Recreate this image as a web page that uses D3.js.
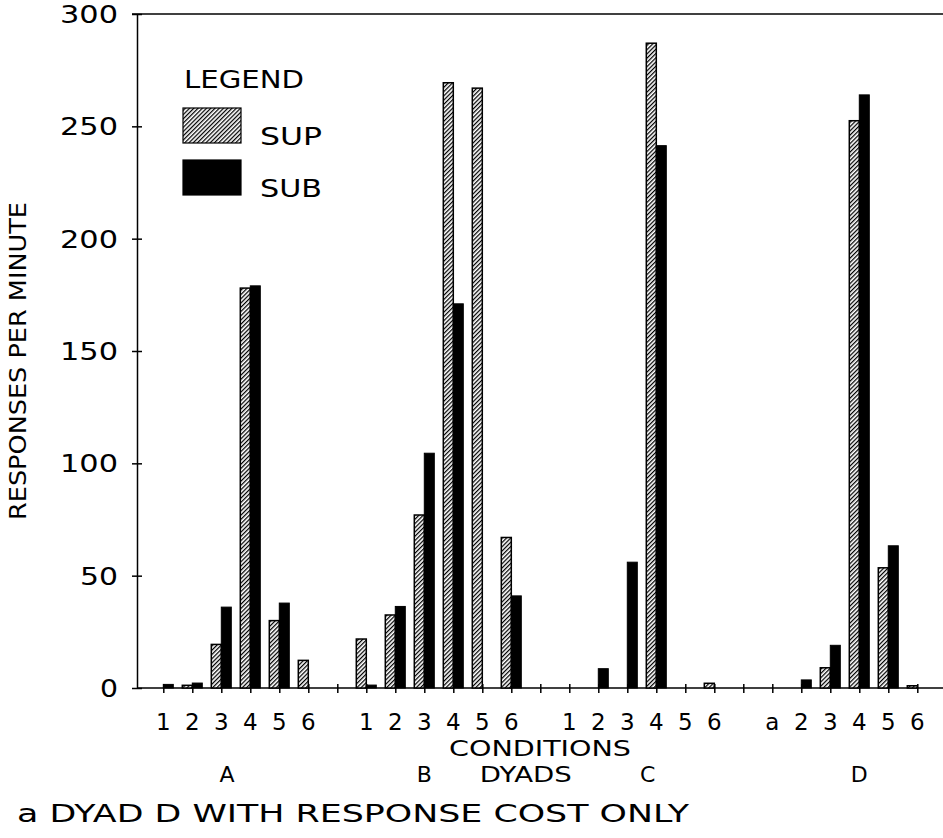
<!DOCTYPE html>
<html lang="en">

<head>
  <meta charset="UTF-8">
  <title>Responses per Minute by Condition</title>
  <script src="https://d3js.org/d3.v7.min.js"></script>
  <style>
    body {
      margin: 0;
      background: #fff;
    }

    svg text {
      font-family: "DejaVu Sans", sans-serif;
      fill: #000;
    }

    .ylabel {
      font-family: "Liberation Sans Narrow", "DejaVu Sans Condensed", sans-serif !important;
      font-size: 23px;
    }
  </style>
</head>

<body>
  <div id="chart"></div>

  <script>
    // data
    const groups = ["A", "B", "C", "D"];
    const conditionLabels = [
      ["1", "2", "3", "4", "5", "6"],
      ["1", "2", "3", "4", "5", "6"],
      ["1", "2", "3", "4", "5", "6"],
      ["a", "2", "3", "4", "5", "6"]
    ];
    const supValues = [
      [0, 1.2, 19.4, 178, 30, 12.3],
      [21.8, 32.5, 77, 269.4, 267, 67],
      [0, 0, 0, 287, 0, 2.1],
      [0, 0, 9, 252.5, 53.5, 1]
    ];
    const subValues = [
      [1.6, 2.2, 36, 179, 37.8, 0],
      [1.3, 36.3, 104.5, 171, 0, 41],
      [0, 8.6, 56, 241.4, 0, 0],
      [0, 3.6, 19, 264, 63.3, 0]
    ];
    const yTicks = [0, 50, 100, 150, 200, 250, 300];
    const groupTitles = [
      { text: "A", slot: 2.2, len: null },
      { text: "B", slot: 9, len: null },
      { text: "DYADS", slot: 12.5, len: 92 },
      { text: "C", slot: 16.7, len: null },
      { text: "D", slot: 24, len: null }
    ];

    const W = 943, H = 838;
    const barW = 10;

    const svg = d3.select("#chart").append("svg")
      .attr("width", W)
      .attr("height", H);

    // hatch for SUP
    svg.append("defs").append("pattern")
      .attr("id", "hatch")
      .attr("patternUnits", "userSpaceOnUse")
      .attr("width", 3)
      .attr("height", 3)
      .attr("patternTransform", "rotate(45)")
      .call(p => {
        p.append("rect").attr("width", 3).attr("height", 3).attr("fill", "#fff");
        p.append("line").attr("x1", 0.6).attr("x2", 0.6).attr("y1", 0).attr("y2", 3)
          .attr("stroke", "#000").attr("stroke-width", 1.3);
      });

    // slot index: 7 slots per group (6 conditions + gap)
    const x = d3.scaleLinear().domain([0, 26]).range([163.3, 917.3]);
    const y = d3.scaleLinear().domain([0, 300]).range([688, 14]);

    const rows = [];
    groups.forEach((g, gi) => {
      conditionLabels[gi].forEach((c, ci) => {
        rows.push({ group: g, label: c, slot: gi * 7 + ci, sup: supValues[gi][ci], sub: subValues[gi][ci] });
      });
    });

    // frame top line
    svg.append("line")
      .attr("x1", 132).attr("x2", W)
      .attr("y1", y(300)).attr("y2", y(300))
      .attr("stroke", "#000").attr("stroke-width", 1.5);

    // y axis
    const yAxis = svg.append("g")
      .attr("transform", "translate(137,0)")
      .call(d3.axisLeft(y).tickValues(yTicks).tickSize(0).tickPadding(0).tickFormat(""));
    yAxis.select(".domain").attr("stroke-width", 1.5);
    yAxis.selectAll(".tick line").remove();
    yAxis.selectAll(".tick").append("line")
      .attr("x1", -5).attr("x2", 5)
      .attr("stroke", "#000").attr("stroke-width", 1.5);

    svg.selectAll(".ytick")
      .data(yTicks)
      .enter().append("text")
      .attr("class", "ytick")
      .attr("x", 118)
      .attr("y", d => y(d) + 9)
      .attr("text-anchor", "end")
      .attr("font-size", 25)
      .attr("textLength", d => String(d).length * 20 - 2)
      .attr("lengthAdjust", "spacingAndGlyphs")
      .text(d => d);

    // x axis
    const xAxis = svg.append("g")
      .attr("transform", `translate(0,${y(0)})`)
      .call(d3.axisBottom(x).tickValues(d3.range(0, 27)).tickSize(0).tickFormat(""));
    xAxis.select(".domain").attr("d", `M137,0H${W}`).attr("stroke-width", 1.5);
    xAxis.selectAll(".tick line").remove();
    xAxis.selectAll(".tick").append("line")
      .attr("y1", -4).attr("y2", 5)
      .attr("stroke", "#000").attr("stroke-width", 1.5);

    svg.selectAll(".xlab")
      .data(rows)
      .enter().append("text")
      .attr("class", "xlab")
      .attr("x", d => x(d.slot))
      .attr("y", 730)
      .attr("text-anchor", "middle")
      .attr("font-size", 23)
      .text(d => d.label);

    // bars
    svg.selectAll(".sup")
      .data(rows.filter(d => d.sup > 0))
      .enter().append("rect")
      .attr("class", "sup")
      .attr("x", d => x(d.slot) - barW)
      .attr("y", d => y(d.sup))
      .attr("width", barW)
      .attr("height", d => y(0) - y(d.sup))
      .attr("fill", "url(#hatch)")
      .attr("stroke", "#000")
      .attr("stroke-width", 1.5);

    svg.selectAll(".sub")
      .data(rows.filter(d => d.sub > 0))
      .enter().append("rect")
      .attr("class", "sub")
      .attr("x", d => x(d.slot))
      .attr("y", d => y(d.sub))
      .attr("width", barW)
      .attr("height", d => y(0) - y(d.sub))
      .attr("fill", "#000")
      .attr("stroke", "#000")
      .attr("stroke-width", 1);

    // axis titles
    svg.append("text")
      .attr("class", "ylabel")
      .attr("transform", "translate(26,361) rotate(-90)")
      .attr("text-anchor", "middle")
      .attr("textLength", 318)
      .attr("lengthAdjust", "spacingAndGlyphs")
      .text("RESPONSES PER MINUTE");

    svg.append("text")
      .attr("x", 540)
      .attr("y", 756)
      .attr("text-anchor", "middle")
      .attr("font-size", 22)
      .attr("textLength", 182)
      .attr("lengthAdjust", "spacingAndGlyphs")
      .text("CONDITIONS");

    svg.selectAll(".gtitle")
      .data(groupTitles)
      .enter().append("text")
      .attr("class", "gtitle")
      .attr("x", d => x(d.slot))
      .attr("y", 782)
      .attr("text-anchor", "middle")
      .attr("font-size", 22)
      .each(function (d) {
        if (d.len) d3.select(this).attr("textLength", d.len).attr("lengthAdjust", "spacingAndGlyphs");
      })
      .text(d => d.text);

    svg.append("text")
      .attr("x", 17)
      .attr("y", 822)
      .attr("font-size", 24)
      .attr("textLength", 672)
      .attr("lengthAdjust", "spacingAndGlyphs")
      .text("a DYAD D WITH RESPONSE COST ONLY");

    // legend
    const legend = svg.append("g");
    legend.append("text")
      .attr("x", 184).attr("y", 88)
      .attr("font-size", 25)
      .attr("textLength", 120)
      .attr("lengthAdjust", "spacingAndGlyphs")
      .text("LEGEND");
    const legendItems = [
      { name: "SUP", fill: "url(#hatch)", y: 108 },
      { name: "SUB", fill: "#000", y: 160 }
    ];
    legend.selectAll(".sw")
      .data(legendItems)
      .enter().append("rect")
      .attr("class", "sw")
      .attr("x", 183).attr("y", d => d.y)
      .attr("width", 58).attr("height", 35)
      .attr("fill", d => d.fill)
      .attr("stroke", "#000").attr("stroke-width", 1.2);
    legend.selectAll(".lt")
      .data(legendItems)
      .enter().append("text")
      .attr("class", "lt")
      .attr("x", 260).attr("y", d => d.y + 37)
      .attr("font-size", 25)
      .attr("textLength", 62)
      .attr("lengthAdjust", "spacingAndGlyphs")
      .text(d => d.name);
  </script>
</body>

</html>
